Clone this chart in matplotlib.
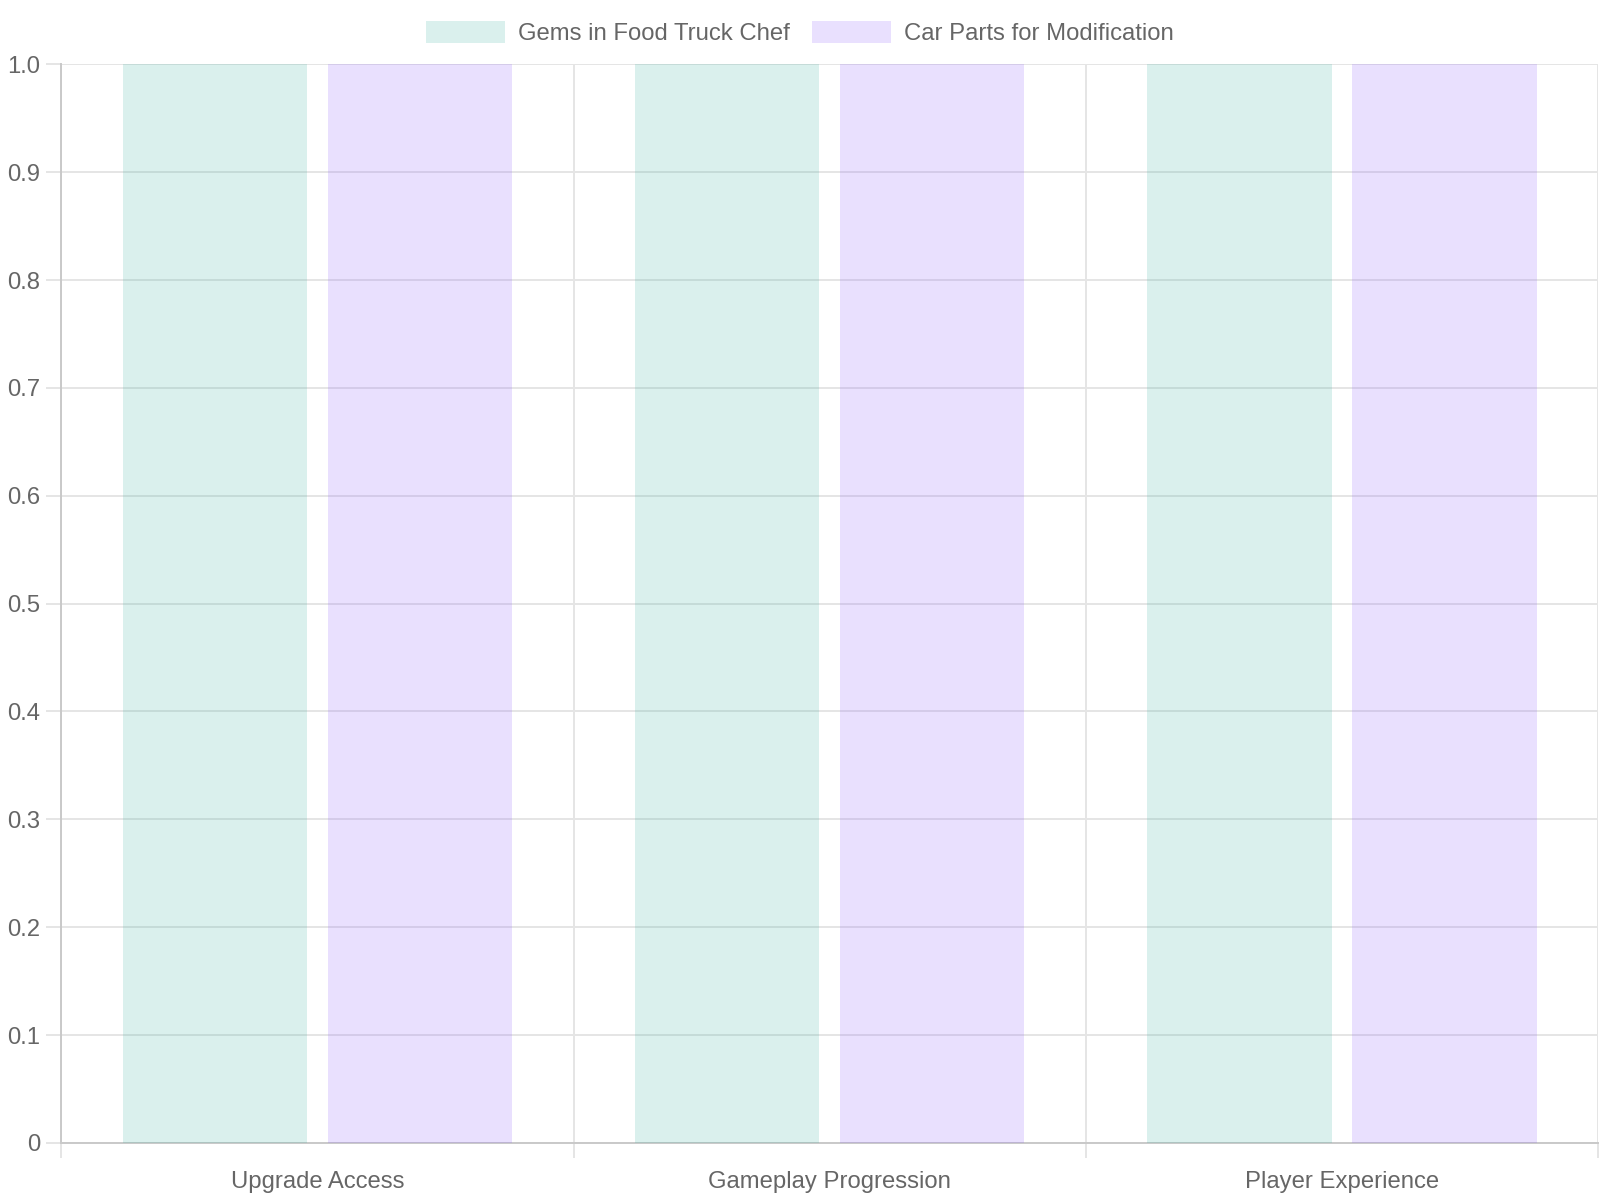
import numpy as np
import matplotlib
matplotlib.use("Agg")
import matplotlib.pyplot as plt
from matplotlib.ticker import FixedLocator

plt.rcParams['font.family'] = ['Liberation Sans', 'DejaVu Sans']

categories = ["Upgrade Access", "Gameplay Progression", "Player Experience"]
gems = [1, 1, 1]
car_parts = [1, 1, 1]
series_names = ["Gems in Food Truck Chef", "Car Parts for Modification"]
y_ticks = [0, 0.1, 0.2, 0.3, 0.4, 0.5, 0.6, 0.7, 0.8, 0.9, 1.0]
y_labels = ["0", "0.1", "0.2", "0.3", "0.4", "0.5", "0.6", "0.7", "0.8", "0.9", "1.0"]

green = (70/255, 180/255, 165/255, 0.2)
purple = (145/255, 100/255, 250/255, 0.2)
txt = "#666666"
grid_c = "#e5e5e5"
axis_c = "#c9c9c9"

fig = plt.figure(figsize=(16, 12), dpi=100)
ax = fig.add_axes([0.0383, 0.0476, 0.9605, 0.8988])

x = np.arange(len(categories))
w = 0.36
ax.bar(x - 0.2, gems, width=w, color=green, zorder=3, label=series_names[0])
ax.bar(x + 0.2, car_parts, width=w, color=purple, zorder=3, label=series_names[1])

ax.set_xlim(-0.5, len(categories) - 0.5)
ax.set_ylim(0, 1.0)

ax.set_yticks(y_ticks)
ax.set_yticklabels(y_labels)
ax.set_xticks(x)
ax.set_xticklabels(categories)
ax.xaxis.set_minor_locator(FixedLocator(np.arange(-0.5, len(categories), 1.0)))

ax.tick_params(axis='x', which='major', length=0, pad=20, labelsize=17.2, labelcolor=txt)
ax.tick_params(axis='x', which='minor', length=11, width=1.4, color=grid_c)
ax.tick_params(axis='y', length=11, width=1.4, color=grid_c, pad=4, labelsize=17.2, labelcolor=txt)

ax.grid(axis='y', which='major', color=grid_c, linewidth=1.4, zorder=0)
ax.grid(axis='x', which='minor', color=grid_c, linewidth=1.4, zorder=0)
ax.set_axisbelow(True)

for s in ["top", "right"]:
    ax.spines[s].set_visible(False)
for s in ["left", "bottom"]:
    ax.spines[s].set_color(axis_c)
    ax.spines[s].set_linewidth(1.4)

fig.legend(loc="center", bbox_to_anchor=(0.5, 0.9725), ncol=2, frameon=False,
           fontsize=17.2, labelcolor=txt, handlelength=3.3, handleheight=1.05,
           handletextpad=0.55, columnspacing=0.9)

fig.savefig("out.png", dpi=100, facecolor="white")
